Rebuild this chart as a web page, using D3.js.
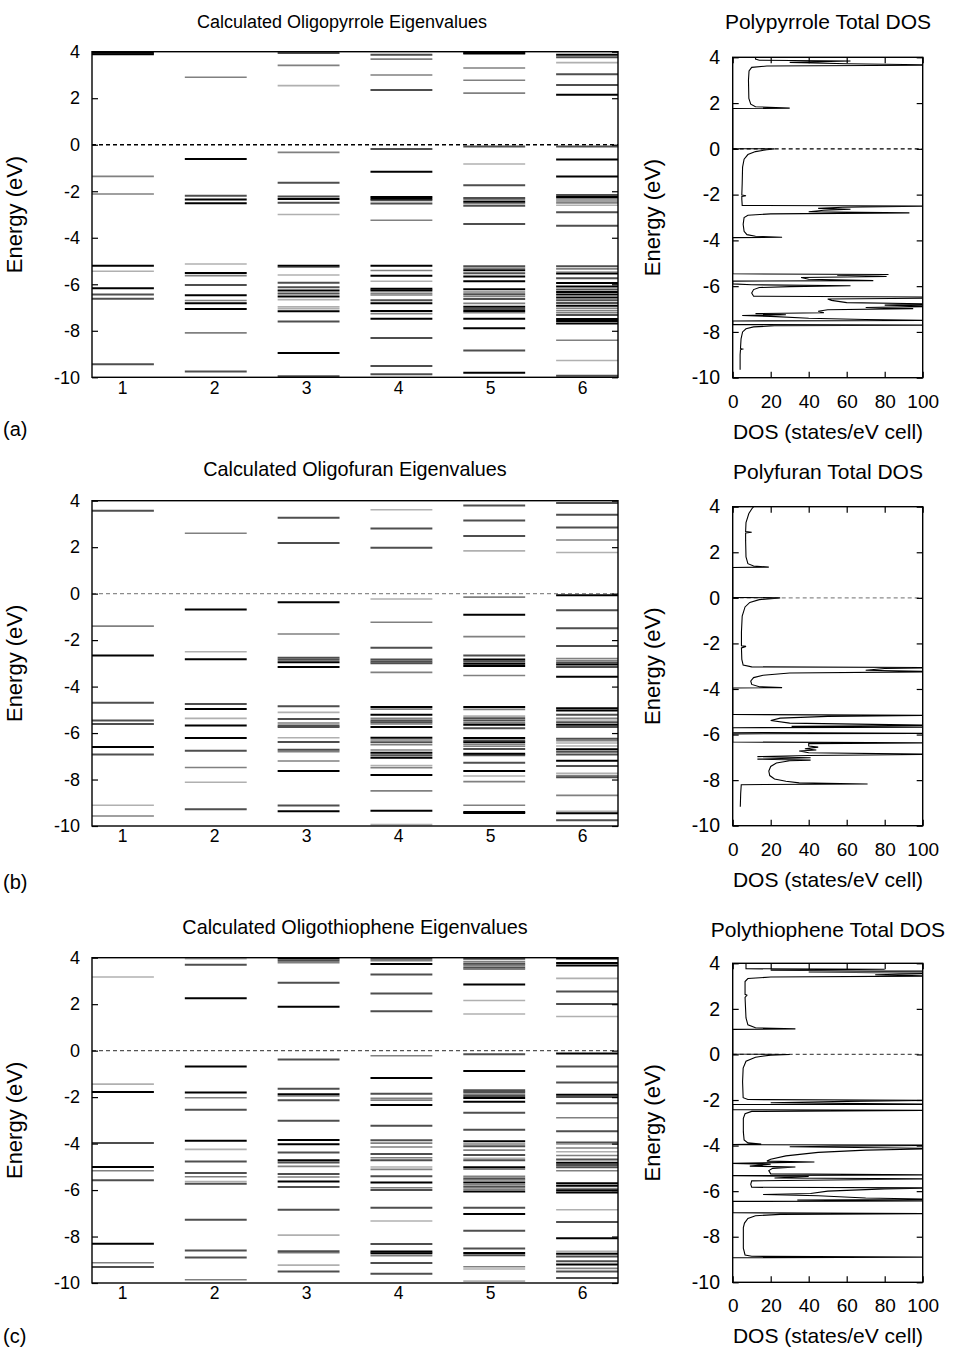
<!DOCTYPE html>
<html>
<head>
<meta charset="utf-8">
<script src="https://cdn.jsdelivr.net/npm/d3@7"></script>
<style>
  body { margin: 0; background: #fff; }
  text { font-family: "Liberation Sans", Arial, Helvetica, sans-serif; fill: #000; }
</style>
</head>
<body>
<div id="viz"></div>
<script>
// ---- data ----
const energyTicks = [4, 2, 0, -2, -4, -6, -8, -10];
const oligomerLengths = [1, 2, 3, 4, 5, 6];
const dosTicks = [0, 20, 40, 60, 80, 100];

// eigenvalues per oligomer length: [energy (eV), intensity 0..3 (light grey .. black)]
const pyrroleLevels = [
  [[3.96,3],[3.89,3],[-1.36,1],[-2.12,1],[-5.2,3],[-5.44,0],[-6.17,3],[-6.44,2],[-6.62,2],[-9.44,2]],
  [[2.9,1],[-0.61,3],[-2.19,2],[-2.36,3],[-2.52,3],[-5.13,0],[-5.51,3],[-5.63,1],[-6.03,2],[-6.47,3],[-6.7,1],[-6.82,3],[-7.06,3],[-8.09,1],[-9.75,2]],
  [[3.94,2],[3.41,1],[2.54,0],[-0.33,1],[-1.63,2],[-2.23,2],[-2.33,3],[-2.49,2],[-3.0,0],[-5.2,3],[-5.27,1],[-5.6,0],[-5.93,2],[-6.13,2],[-6.27,3],[-6.4,2],[-6.53,3],[-6.66,0],[-6.97,0],[-7.05,0],[-7.16,3],[-7.6,2],[-8.95,3],[-9.95,2]],
  [[3.87,2],[3.68,1],[3.0,1],[2.35,2],[-0.18,2],[-1.16,3],[-2.25,3],[-2.32,3],[-2.39,2],[-2.53,2],[-3.25,1],[-5.2,3],[-5.41,1],[-5.63,3],[-5.87,0],[-6.19,3],[-6.27,3],[-6.39,1],[-6.46,1],[-6.69,2],[-6.82,3],[-7.15,3],[-7.26,1],[-7.48,3],[-8.31,2],[-9.51,2],[-9.87,2]],
  [[3.96,3],[3.92,3],[3.3,1],[2.77,1],[2.22,1],[-0.08,2],[-0.83,0],[-1.74,2],[-2.29,2],[-2.36,1],[-2.45,3],[-2.53,1],[-2.62,2],[-3.41,2],[-5.23,2],[-5.31,1],[-5.4,3],[-5.53,2],[-5.67,3],[-5.87,3],[-6.21,3],[-6.33,1],[-6.43,2],[-6.52,1],[-6.63,2],[-6.82,1],[-6.97,3],[-7.06,2],[-7.15,3],[-7.22,1],[-7.48,3],[-7.89,3],[-8.85,2],[-9.8,3]],
  [[3.87,3],[3.76,2],[3.53,0],[3.03,2],[2.57,2],[2.15,3],[-0.08,2],[-0.63,3],[-1.37,3],[-2.16,2],[-2.25,3],[-2.33,1],[-2.42,1],[-2.5,1],[-2.6,0],[-2.9,2],[-3.48,2],[-5.23,2],[-5.34,1],[-5.46,0],[-5.54,3],[-5.74,2],[-5.94,3],[-6.1,3],[-6.23,2],[-6.33,3],[-6.44,3],[-6.57,3],[-6.69,2],[-6.8,2],[-6.92,3],[-7.03,1],[-7.13,1],[-7.22,1],[-7.32,2],[-7.49,3],[-7.58,3],[-7.69,3],[-8.41,1],[-9.28,0],[-9.93,2]]
];

const furanLevels = [
  [[3.57,2],[-1.4,1],[-2.66,3],[-4.7,2],[-5.46,2],[-5.61,2],[-6.6,3],[-6.92,2],[-9.11,0],[-9.57,1]],
  [[2.6,1],[-0.68,3],[-2.5,0],[-2.82,3],[-4.75,2],[-4.97,3],[-5.37,0],[-5.67,3],[-6.21,3],[-6.76,2],[-7.48,1],[-8.12,0],[-9.28,2]],
  [[3.27,2],[2.18,2],[-0.37,3],[-1.74,1],[-2.76,2],[-2.85,2],[-2.95,3],[-3.16,3],[-4.85,2],[-5.11,0],[-5.4,2],[-5.57,1],[-5.67,2],[-5.74,2],[-6.2,0],[-6.39,2],[-6.72,2],[-6.8,1],[-7.2,1],[-7.63,3],[-9.12,2],[-9.37,3]],
  [[3.61,0],[2.8,2],[1.98,2],[-0.23,0],[-1.23,1],[-2.33,2],[-2.83,2],[-2.92,2],[-3.0,2],[-3.39,1],[-4.88,3],[-4.97,1],[-5.21,3],[-5.37,1],[-5.46,2],[-5.54,2],[-5.61,1],[-5.74,3],[-6.2,3],[-6.3,1],[-6.4,2],[-6.5,1],[-6.73,1],[-6.85,3],[-6.96,2],[-7.06,3],[-7.4,0],[-7.49,1],[-7.8,3],[-8.49,1],[-9.34,3],[-9.94,0]],
  [[3.79,2],[3.15,2],[2.48,2],[1.84,0],[-0.15,1],[-0.91,3],[-1.85,1],[-2.66,2],[-2.83,3],[-2.92,2],[-3.02,3],[-3.11,3],[-3.52,1],[-4.88,3],[-4.98,1],[-5.27,0],[-5.36,2],[-5.46,2],[-5.56,1],[-5.64,3],[-5.79,2],[-6.21,3],[-6.32,2],[-6.4,3],[-6.49,1],[-6.57,1],[-6.69,2],[-6.89,3],[-6.96,2],[-7.28,2],[-7.63,3],[-7.85,0],[-8.09,1],[-9.11,1],[-9.4,3],[-9.44,3]],
  [[3.9,2],[3.4,2],[2.85,2],[2.31,1],[1.77,0],[-0.07,3],[-0.71,2],[-1.49,2],[-2.25,2],[-2.79,1],[-2.88,1],[-2.96,2],[-3.05,3],[-3.16,2],[-3.58,3],[-4.93,3],[-5.03,3],[-5.21,2],[-5.36,1],[-5.44,0],[-5.54,2],[-5.64,3],[-5.74,2],[-6.24,2],[-6.33,1],[-6.43,0],[-6.56,0],[-6.7,3],[-6.8,2],[-6.92,2],[-7.19,3],[-7.42,2],[-7.73,0],[-7.83,1],[-7.9,2],[-8.68,1],[-9.37,0],[-9.45,3],[-9.75,2]]
];

const thiopheneLevels = [
  [[3.17,0],[-1.44,0],[-1.78,3],[-3.98,2],[-5.01,3],[-5.17,1],[-5.58,2],[-8.31,3],[-9.13,1],[-9.31,2]],
  [[3.96,0],[3.7,2],[2.25,3],[-0.68,3],[-1.8,3],[-2.03,1],[-2.54,2],[-3.88,3],[-4.25,0],[-4.77,2],[-5.27,2],[-5.43,1],[-5.63,0],[-5.73,2],[-7.28,2],[-8.6,2],[-8.9,2],[-9.86,1]],
  [[3.97,3],[3.87,2],[3.78,1],[2.92,2],[1.89,3],[-0.38,2],[-1.64,2],[-1.88,3],[-1.95,1],[-2.13,2],[-3.02,2],[-3.85,3],[-4.03,3],[-4.38,2],[-4.72,3],[-4.81,2],[-4.98,1],[-5.31,2],[-5.44,1],[-5.63,3],[-5.87,2],[-6.85,2],[-7.94,0],[-8.63,2],[-8.7,1],[-9.23,0],[-9.5,2]],
  [[3.96,2],[3.87,1],[3.73,3],[3.28,2],[2.46,2],[1.69,2],[-0.22,1],[-1.18,3],[-1.85,2],[-2.05,1],[-2.13,1],[-2.34,3],[-3.23,2],[-3.86,2],[-3.98,1],[-4.15,1],[-4.45,2],[-4.61,1],[-4.72,2],[-5.01,0],[-5.11,1],[-5.41,2],[-5.68,3],[-5.9,1],[-6.0,2],[-6.76,2],[-7.33,0],[-8.32,2],[-8.64,3],[-8.72,3],[-8.82,1],[-9.14,2],[-9.6,2]],
  [[3.96,2],[3.83,1],[3.74,2],[3.67,1],[3.58,2],[3.51,1],[2.85,3],[2.16,0],[1.58,0],[-0.16,2],[-0.88,3],[-1.7,2],[-1.78,2],[-1.87,1],[-1.95,2],[-2.04,3],[-2.2,3],[-2.67,2],[-3.4,2],[-3.9,3],[-4.02,1],[-4.11,2],[-4.28,1],[-4.49,2],[-4.63,0],[-4.72,2],[-5.02,3],[-5.1,1],[-5.41,1],[-5.5,2],[-5.57,1],[-5.68,3],[-5.77,1],[-5.86,2],[-5.96,1],[-6.06,3],[-6.76,2],[-7.03,3],[-7.75,2],[-8.52,2],[-8.71,3],[-8.81,2],[-9.3,1],[-9.4,0],[-9.92,0]],
  [[3.97,3],[3.77,3],[3.66,3],[3.11,0],[2.55,2],[2.01,2],[1.47,0],[-0.12,3],[-0.68,2],[-1.37,2],[-1.9,3],[-2.0,2],[-2.26,2],[-2.89,1],[-3.47,2],[-3.95,2],[-4.03,0],[-4.19,1],[-4.35,0],[-4.51,1],[-4.68,2],[-4.82,3],[-4.92,2],[-5.02,2],[-5.17,1],[-5.71,3],[-5.81,3],[-5.93,1],[-6.01,3],[-6.1,3],[-6.85,0],[-7.38,2],[-8.07,3],[-8.64,0],[-8.74,3],[-8.86,2],[-9.06,2],[-9.2,3],[-9.37,1],[-9.5,2],[-9.79,2]]
];

// total DOS of the polymers: [energy (eV), DOS (states/eV cell)], traced bottom to top
const pyrroleDos = [
  [-9.65,3.9],[-9.0,3.9],[-8.78,4.1],[-8.75,5.2],[-8.72,4.1],[-8.3,4.4],[-8.0,5.2],[-7.86,7],[-7.78,11],[-7.73,22],
  [-7.7,110],[-7.68,0],[-7.52,0],[-7.5,110],[-7.46,70],[-7.4,40],[-7.32,20],[-7.28,5],[-7.25,28],[-7.2,12],
  [-7.16,48],[-7.1,45],[-7.03,50],[-6.98,95],[-6.93,70],[-6.88,110],[-6.83,80],[-6.78,110],[-6.72,60],[-6.62,52],
  [-6.56,50],[-6.52,110],[-6.48,110],[-6.44,11],[-6.3,10],[-6.15,11],[-6.06,14],[-6.02,30],[-5.98,62],[-5.94,10],
  [-5.9,0],[-5.78,0],[-5.76,74],[-5.7,40],[-5.62,36],[-5.58,81],[-5.52,55],[-5.49,82],[-5.46,0],[-3.88,0],
  [-3.86,26],[-3.82,12],[-3.75,7.5],[-3.6,6],[-3.3,5.5],[-3.0,6],[-2.9,8],[-2.84,20],[-2.8,93],[-2.75,40],
  [-2.68,48],[-2.64,62],[-2.6,45],[-2.55,58],[-2.5,110],[-2.47,5],[-2.2,4.8],[-2.08,4.8],[-2.05,7],[-2.02,4.8],
  [-1.5,5],[-0.8,5.2],[-0.45,6],[-0.25,8],[-0.12,12],[-0.04,18],[0,22],[0.01,0],[1.76,0],[1.78,30],
  [1.84,12],[1.95,9.5],[2.2,8.5],[3.0,8.3],[3.4,8.6],[3.56,10],[3.62,18],[3.66,110],[3.72,60],[3.78,30],
  [3.84,62],[3.87,14],[3.92,12],[4,12]
];

const furanDos = [
  [-9.17,4],[-8.6,4.2],[-8.2,4.5],[-8.17,71],[-8.12,35],[-8.05,28],[-7.95,22],[-7.8,19.5],[-7.6,19],[-7.4,20],
  [-7.25,23],[-7.15,30],[-7.12,41],[-7.08,13],[-7.02,41],[-6.97,13],[-6.92,40],[-6.87,110],[-6.8,40],[-6.72,35],
  [-6.68,44],[-6.62,38],[-6.55,45],[-6.5,40],[-6.4,40],[-6.36,110],[-6.33,0],[-5.97,0],[-5.95,110],[-5.9,0],
  [-5.7,0],[-5.68,110],[-5.64,31],[-5.6,110],[-5.5,30],[-5.38,20],[-5.28,25],[-5.2,50],[-5.16,110],[-5.12,0],
  [-3.96,0],[-3.94,26],[-3.9,14],[-3.8,10],[-3.65,9.5],[-3.5,11],[-3.4,16],[-3.3,30],[-3.24,110],[-3.18,70],
  [-3.1,80],[-3.06,110],[-3.03,10],[-2.95,5.5],[-2.7,4.8],[-2.2,4.6],[-2.13,7],[-2.1,4.6],[-1.5,4.6],[-0.8,5],
  [-0.4,6.5],[-0.2,9],[-0.08,14],[0,25],[0.02,0],[1.33,0],[1.35,19],[1.4,11],[1.5,8],[1.8,7],
  [2.5,6.8],[2.85,6.8],[2.88,10],[2.91,6.8],[3.3,7],[3.7,8.5],[3.9,10],[4,11]
];

const thiopheneDos = [
  [-8.92,0],[-8.9,110],[-8.86,10],[-8.8,6.5],[-8.5,5.6],[-7.6,5.6],[-7.4,6.2],[-7.2,8],[-7.08,12],[-7.02,25],
  [-6.98,110],[-6.95,0],[-6.45,0],[-6.43,110],[-6.39,34],[-6.36,110],[-6.3,70],[-6.2,45],[-6.15,16],[-6.1,41],
  [-6.0,50],[-5.9,80],[-5.86,110],[-5.83,10],[-5.7,9.5],[-5.55,10],[-5.46,110],[-5.42,22],[-5.35,40],[-5.32,0],
  [-5.29,110],[-5.24,20],[-5.1,19],[-5.0,21],[-4.94,33],[-4.9,9],[-4.82,20],[-4.78,0],[-4.72,43],[-4.68,18],
  [-4.6,20],[-4.45,28],[-4.3,45],[-4.2,70],[-4.13,110],[-4.05,30],[-3.98,110],[-3.96,0],[-3.93,15],[-3.88,8],
  [-3.75,6],[-3.4,5.6],[-2.8,5.6],[-2.6,6.5],[-2.5,10],[-2.45,110],[-2.42,0],[-2.2,0],[-2.19,110],[-2.12,20],
  [-2.06,60],[-2.01,110],[-1.98,8],[-1.9,5.5],[-1.2,5.2],[-0.6,5.5],[-0.3,7],[-0.12,12],[-0.03,20],[0,30],
  [0.02,0],[1.1,0],[1.12,33],[1.17,12],[1.3,8],[1.6,7],[2.5,6.5],[2.6,7.5],[2.64,6.5],[3.2,6.5],
  [3.33,8],[3.4,20],[3.44,110],[3.5,75],[3.56,110],[3.62,40],[3.66,110],[3.7,20],[3.74,80],[3.76,7],[4,7]
];

// ---- layout ----
const width = 953, height = 1347;
const eigX0 = 92, eigX1 = 618;
const dosX0 = 732.7, dosX1 = 922.7;

const panels = [
  { tag: "(a)", title: "Calculated Oligopyrrole Eigenvalues", dosTitle: "Polypyrrole Total DOS",
    levels: pyrroleLevels, dos: pyrroleDos, eTop: 51.7, eBot: 377.3, dTop: 57.3, dBot: 377.7,
    titleX: 342, titleY: 28, titleSize: 18, dosTitleY: 29, tagY: 436, zero: "#000" },
  { tag: "(b)", title: "Calculated Oligofuran Eigenvalues", dosTitle: "Polyfuran Total DOS",
    levels: furanLevels, dos: furanDos, eTop: 500.7, eBot: 826, dTop: 506.7, dBot: 825.7,
    titleX: 355, titleY: 476, titleSize: 19.8, dosTitleY: 479, tagY: 889, zero: "#8c8c8c" },
  { tag: "(c)", title: "Calculated Oligothiophene Eigenvalues", dosTitle: "Polythiophene Total DOS",
    levels: thiopheneLevels, dos: thiopheneDos, eTop: 957.7, eBot: 1283, dTop: 963.3, dBot: 1282.3,
    titleX: 355, titleY: 934, titleSize: 19.8, dosTitleY: 937, tagY: 1343, zero: "#555" }
];

const shadeColor = d3.scaleOrdinal().domain([0, 1, 2, 3]).range(["#b0b0b0", "#808080", "#4e4e4e", "#000"]);
const shadeWidth = d3.scaleOrdinal().domain([0, 1, 2, 3]).range([1.6, 1.6, 2, 2]);
const fmt = d => String(d);

const svg = d3.select("#viz")
  .append("svg")
    .attr("width", width)
    .attr("height", height);

const defs = svg.append("defs");

function styleAxis(g, size) {
  g.select(".domain").remove();
  g.selectAll(".tick line").attr("stroke", "#000").attr("stroke-width", 1.2);
  g.selectAll("text")
    .attr("font-family", "'Liberation Sans', Arial, Helvetica, sans-serif")
    .attr("font-size", size)
    .attr("fill", "#000");
}

panels.forEach((p, i) => {
  // ---------- eigenvalue panel ----------
  const ex = d3.scaleLinear().domain([2 / 3, 19 / 3]).range([eigX0, eigX1]);
  // the printed oligomer numbers sit a little left of the level centres
  const exLabel = d3.scaleLinear().domain([1, 6]).range([122, 582]);
  const ey = d3.scaleLinear().domain([-10, 4]).range([p.eBot, p.eTop]);

  defs.append("clipPath").attr("id", "eclip" + i)
    .append("rect")
      .attr("x", eigX0).attr("y", p.eTop)
      .attr("width", eigX1 - eigX0).attr("height", p.eBot - p.eTop);

  const segs = p.levels.flatMap((lv, k) =>
    lv.map(d => ({ n: oligomerLengths[k], e: d[0], s: d[1] })));
  segs.sort((a, b) => a.s - b.s);

  svg.append("line")
    .attr("x1", eigX0).attr("x2", eigX1)
    .attr("y1", ey(0)).attr("y2", ey(0))
    .attr("stroke", p.zero).attr("stroke-width", 1.3)
    .attr("stroke-dasharray", "4,3");

  svg.append("g")
    .attr("clip-path", `url(#eclip${i})`)
    .selectAll("line")
    .data(segs)
    .join("line")
      .attr("x1", d => ex(d.n - 1 / 3))
      .attr("x2", d => ex(d.n + 1 / 3))
      .attr("y1", d => ey(d.e))
      .attr("y2", d => ey(d.e))
      .attr("stroke", d => shadeColor(d.s))
      .attr("stroke-width", d => shadeWidth(d.s));

  svg.append("g")
    .attr("transform", `translate(${eigX0},0)`)
    .call(d3.axisLeft(ey).tickValues(energyTicks).tickFormat(fmt)
      .tickSizeInner(-6).tickSizeOuter(0).tickPadding(12))
    .call(g => styleAxis(g, 18));

  svg.append("g")
    .attr("transform", `translate(${eigX1},0)`)
    .call(d3.axisRight(ey).tickValues(energyTicks).tickFormat("")
      .tickSizeInner(-6).tickSizeOuter(0))
    .call(g => styleAxis(g, 18));

  svg.append("g")
    .attr("transform", `translate(0,${p.eBot})`)
    .call(d3.axisBottom(exLabel).tickValues(oligomerLengths).tickFormat(fmt)
      .tickSize(0).tickPadding(4))
    .call(g => styleAxis(g, 17.5));

  svg.append("rect")
    .attr("x", eigX0).attr("y", p.eTop)
    .attr("width", eigX1 - eigX0).attr("height", p.eBot - p.eTop)
    .attr("fill", "none").attr("stroke", "#000").attr("stroke-width", 1.4);

  svg.append("text")
    .attr("x", p.titleX).attr("y", p.titleY)
    .attr("text-anchor", "middle")
    .attr("font-size", p.titleSize)
    .text(p.title);

  svg.append("text")
    .attr("transform", `translate(21.5,${(p.eTop + p.eBot) / 2}) rotate(-90)`)
    .attr("text-anchor", "middle")
    .attr("font-size", 22)
    .text("Energy (eV)");

  svg.append("text")
    .attr("x", 3).attr("y", p.tagY)
    .attr("font-size", 20)
    .text(p.tag);

  // ---------- DOS panel ----------
  const dx = d3.scaleLinear().domain([0, 100]).range([dosX0, dosX1]);
  const dy = d3.scaleLinear().domain([-10, 4]).range([p.dBot, p.dTop]);

  defs.append("clipPath").attr("id", "dclip" + i)
    .append("rect")
      .attr("x", dosX0).attr("y", p.dTop)
      .attr("width", dosX1 - dosX0).attr("height", p.dBot - p.dTop);

  svg.append("line")
    .attr("x1", dosX0).attr("x2", dosX1)
    .attr("y1", dy(0)).attr("y2", dy(0))
    .attr("stroke", p.zero).attr("stroke-width", 1.2)
    .attr("stroke-dasharray", "4,3");

  const line = d3.line()
    .x(d => dx(d[1]))
    .y(d => dy(d[0]));

  svg.append("path")
    .datum(p.dos)
    .attr("clip-path", `url(#dclip${i})`)
    .attr("d", line)
    .attr("fill", "none")
    .attr("stroke", "#000")
    .attr("stroke-width", 1.1);

  svg.append("g")
    .attr("transform", `translate(${dosX0},0)`)
    .call(d3.axisLeft(dy).tickValues(energyTicks).tickFormat(fmt)
      .tickSizeInner(-6).tickSizeOuter(0).tickPadding(12.7))
    .call(g => styleAxis(g, 19.5));

  svg.append("g")
    .attr("transform", `translate(${dosX1},0)`)
    .call(d3.axisRight(dy).tickValues(energyTicks).tickFormat("")
      .tickSizeInner(-6).tickSizeOuter(0))
    .call(g => styleAxis(g, 19));

  svg.append("g")
    .attr("transform", `translate(0,${p.dBot})`)
    .call(d3.axisBottom(dx).tickValues(dosTicks).tickFormat(fmt)
      .tickSizeInner(-6).tickSizeOuter(0).tickPadding(16.5))
    .call(g => styleAxis(g, 19));

  svg.append("g")
    .attr("transform", `translate(0,${p.dTop})`)
    .call(d3.axisTop(dx).tickValues(dosTicks).tickFormat("")
      .tickSizeInner(-6).tickSizeOuter(0))
    .call(g => styleAxis(g, 19));

  svg.append("rect")
    .attr("x", dosX0).attr("y", p.dTop)
    .attr("width", dosX1 - dosX0).attr("height", p.dBot - p.dTop)
    .attr("fill", "none").attr("stroke", "#000").attr("stroke-width", 1.4);

  svg.append("text")
    .attr("x", 828).attr("y", p.dosTitleY)
    .attr("text-anchor", "middle")
    .attr("font-size", 21)
    .text(p.dosTitle);

  svg.append("text")
    .attr("transform", `translate(660,${(p.dTop + p.dBot) / 2}) rotate(-90)`)
    .attr("text-anchor", "middle")
    .attr("font-size", 22)
    .text("Energy (eV)");

  svg.append("text")
    .attr("x", 828).attr("y", p.dBot + 61)
    .attr("text-anchor", "middle")
    .attr("font-size", 21)
    .text("DOS (states/eV cell)");
});
</script>
</body>
</html>
